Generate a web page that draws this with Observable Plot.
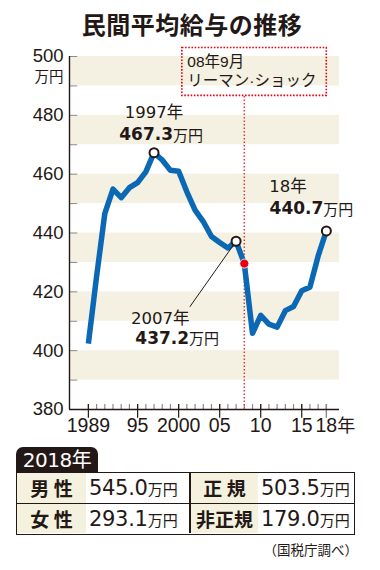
<!DOCTYPE html>
<html><head><meta charset="utf-8">
<script src="https://cdn.jsdelivr.net/npm/d3@7"></script>
<script src="https://cdn.jsdelivr.net/npm/@observablehq/plot@0.6"></script>
<style>
html,body{margin:0;padding:0;background:#fff}
body{width:380px;height:570px;position:relative;overflow:hidden;color:#231815;font-family:"Liberation Sans","Noto Sans CJK JP",sans-serif}
#title{position:absolute;left:2px;top:9px;width:380px;text-align:center;font:bold 24px/30px "Noto Sans CJK JP",sans-serif;letter-spacing:0.5px}
#chart{position:absolute;left:0;top:40px}
#tab{position:absolute;left:16px;top:447px;width:82px;height:25px;background:#231815;color:#fff;border-radius:7px 7px 0 0;font:20px/26px "DejaVu Sans","Noto Sans CJK JP",sans-serif;text-align:center;letter-spacing:-0.5px}
#tbl{position:absolute;left:16px;top:472px;width:339px;height:63px;box-sizing:border-box;border:1.5px solid #231815;display:grid;grid-template-columns:69px 103px 69px auto;grid-template-rows:30px 30px}
.lab{background:#f4f1de;font:bold 19px/30px "Noto Sans CJK JP",sans-serif;text-align:center;white-space:pre}
.val{font:21px/30px "DejaVu Sans","Noto Sans CJK JP",sans-serif;padding-left:3px;white-space:nowrap;letter-spacing:-0.3px}
.val span{font:15px "Noto Sans CJK JP",sans-serif;letter-spacing:0}
.c2{border-left:2px solid #231815}
.r2{border-top:1px solid #231815}
#src{position:absolute;right:22px;top:540px;font:13.5px/18px "Noto Sans CJK JP",sans-serif}
</style>
</head><body>
<div id="title">民間平均給与の推移</div>
<div id="chart"></div>
<div id="tab"></div>
<div id="tbl"></div>
<div id="src">（国税庁調べ）</div>
<script>
// ---- data ----
const years = [1989,1990,1991,1992,1993,1994,1995,1996,1997,1998,1999,2000,2001,2002,2003,2004,2005,2006,2007,2008,2009,2010,2011,2012,2013,2014,2015,2016,2017,2018];
const wages = [402.4,425.2,446.6,454.9,452.0,455.4,457.1,460.8,467.3,464.8,461.3,461.0,454.0,447.8,443.9,438.8,436.8,434.9,437.2,429.6,405.9,412.0,409.0,408.0,413.6,415.0,420.4,421.6,432.2,440.7];
const yLabels = [380,400,420,440,460,480,500];
const yTicks = [380,390,400,410,420,430,440,450,460,470,480,490,500];
const bandStarts = [390,410,430,450,470,490];
const xLabelYears = [1989,1995,2000,2005,2010,2015,2018];
const xLabels = ["1989","95","2000","05","10","15","18"];
const highlightYears = [1997,2007,2018];
const shockYear = 2008;
const boxLines = ["08年9月","リーマン·ショック"];
const tabTitle = "2018年";
const tableLabels = ["男 性","女 性","正 規","非正規"];
const tableValues = ["545.0","293.1","503.5","179.0"];
const unit = "万円";

const data = years.map((y,i)=>({year:y, value:wages[i]}));
const hi = data.filter(d=>highlightYears.includes(d.year));
const shock = data.filter(d=>d.year===shockYear);
const get = y => data.find(d=>d.year===y);

const X0 = 1986.7, X1 = 2019.6;
const ink = "#231815";
const blue = "#0a68b4";
const red = "#e60012";
const numFont = "DejaVu Sans, Noto Sans CJK JP, sans-serif";
const jpFont = "Noto Sans CJK JP, sans-serif";
const axFont = "Liberation Sans, Noto Sans CJK JP, sans-serif";

const chart = Plot.plot({
  width: 380, height: 405,
  marginLeft: 69, marginRight: 41, marginTop: 16, marginBottom: 36,
  x: {domain: [X0, X1], axis: null},
  y: {domain: [380, 500], axis: null},
  style: {overflow: "visible", background: "transparent"},
  marks: [
    Plot.rect(bandStarts, {x1: X0, x2: X1, y1: d=>d, y2: d=>d+10, fill: "#f4f1e3"}),
    Plot.ruleY(yTicks, {y: d=>d, x1: X0, x2: X0+1, stroke: "#8a8a8a", strokeWidth: 1}),
    Plot.ruleX(years, {x: d=>d, y1: 380, y2: 381.7, stroke: "#8a8a8a", strokeWidth: 1.2}),
    Plot.ruleX(xLabelYears.filter(d=>d!==2018), {x: d=>d, y1: 381.7, y2: 377, stroke: ink, strokeWidth: 1.2}),
    Plot.ruleX([2018], {x: d=>d, y1: 381.7, y2: 377, stroke: "#8a8a8a", strokeWidth: 1.4}),
    Plot.ruleY([380], {y: d=>d, x1: X0, x2: X1, stroke: ink, strokeWidth: 1.4}),
    Plot.ruleX([X0], {x: d=>d, y1: 380, y2: 500, stroke: ink, strokeWidth: 1.4}),
    Plot.text(yLabels, {x: X0, y: d=>d, text: d=>String(d), textAnchor: "end", dx: -6, fontSize: 18.5, fontFamily: axFont, fill: ink}),
    Plot.text([unit], {x: X0, y: 500, text: d=>d, textAnchor: "end", dx: -6, dy: 20.5, fontSize: 14.5, fontFamily: axFont, fill: ink}),
    Plot.text(xLabelYears, {x: d=>d, frameAnchor: "bottom", text: (d,i)=>xLabels[i], dy: 22, fontSize: 19.5, fontFamily: axFont, fill: ink}),
    Plot.text(["年"], {x: 2018, frameAnchor: "bottom", text: d=>d, textAnchor: "start", dx: 11, dy: 22, fontSize: 18, fontFamily: jpFont, fill: ink}),
    Plot.ruleX([shockYear], {x: d=>d, y1: 380, y2: 486.6, stroke: "#e8383d", strokeWidth: 1.5, strokeDasharray: "1.5,2"}),
    Plot.rect([0], {x1: 2000.45, x2: 2018.05, y1: 486.6, y2: 502.9, fill: "white", fillOpacity: 0, stroke: red, strokeWidth: 1.6, strokeDasharray: "1.6,1.6"}),
    Plot.text([boxLines[0]], {x: 2000.45, y: 502.9, text: d=>d, textAnchor: "start", dx: 5, dy: 14.5, fontSize: 15.5, fontFamily: axFont, fill: ink}),
    Plot.text([boxLines[1]], {x: 2000.45, y: 502.9, text: d=>d, textAnchor: "start", dx: 5, dy: 33.5, fontSize: 15.5, fontFamily: axFont, fill: ink}),
    Plot.line(data, {x: "year", y: "value", stroke: blue, strokeWidth: 5.5, strokeLinejoin: "round", strokeLinecap: "butt"}),
    Plot.link([get(2007)], {x1: "year", y1: "value", x2: 2001.36, y2: 414.9, stroke: ink, strokeWidth: 1}),
    Plot.dot(hi, {x: "year", y: "value", r: 4.5, fill: "white", stroke: ink, strokeWidth: 2}),
    Plot.dot(shock, {x: "year", y: "value", r: 4.5, fill: red, stroke: "white", strokeWidth: 0.8}),
    // 1997
    Plot.text([get(1997)], {x: "year", y: "value", text: d=>d.year+"年", dy: -40, fontSize: 16.5, fontFamily: numFont, fill: ink}),
    Plot.text([get(1997)], {x: "year", y: "value", text: d=>d.value.toFixed(1), textAnchor: "end", dx: 19, dy: -18, fontSize: 17, fontWeight: "bold", fontFamily: numFont, fill: ink}),
    Plot.text([get(1997)], {x: "year", y: "value", text: ()=>unit, textAnchor: "start", dx: 19, dy: -17, fontSize: 15, fontFamily: jpFont, fill: ink}),
    // 2007
    Plot.text([get(2007)], {x: "year", y: "value", text: d=>d.year+"年", textAnchor: "start", dx: -105, dy: 77, fontSize: 16.5, fontFamily: numFont, fill: ink}),
    Plot.text([get(2007)], {x: "year", y: "value", text: d=>d.value.toFixed(1), textAnchor: "end", dx: -47, dy: 97, fontSize: 17, fontWeight: "bold", fontFamily: numFont, fill: ink}),
    Plot.text([get(2007)], {x: "year", y: "value", text: ()=>unit, textAnchor: "start", dx: -47, dy: 98, fontSize: 15, fontFamily: jpFont, fill: ink}),
    // 2018
    Plot.text([get(2018)], {x: "year", y: "value", text: d=>String(d.year).slice(2)+"年", textAnchor: "start", dx: -57, dy: -44, fontSize: 16.5, fontFamily: numFont, fill: ink}),
    Plot.text([get(2018)], {x: "year", y: "value", text: d=>d.value.toFixed(1), textAnchor: "end", dx: -3, dy: -22, fontSize: 17, fontWeight: "bold", fontFamily: numFont, fill: ink}),
    Plot.text([get(2018)], {x: "year", y: "value", text: ()=>unit, textAnchor: "start", dx: -3, dy: -21, fontSize: 15, fontFamily: jpFont, fill: ink})
  ]
});
document.getElementById("chart").appendChild(chart);

document.getElementById("tab").textContent = tabTitle;
const tbl = document.getElementById("tbl");
const rows = [[0,2],[1,3]]; // row1: 男性 正規, row2: 女性 非正規
rows.forEach((r,ri)=>{
  r.forEach((idx,ci)=>{
    const lab = document.createElement("div");
    lab.className = "lab" + (ci===1 ? " c2" : "") + (ri===1 ? " r2" : "");
    lab.textContent = tableLabels[idx];
    const val = document.createElement("div");
    val.className = "val" + (ri===1 ? " r2" : "");
    val.innerHTML = tableValues[idx] + "<span>" + unit + "</span>";
    tbl.appendChild(lab); tbl.appendChild(val);
  });
});
</script>
</body></html>
